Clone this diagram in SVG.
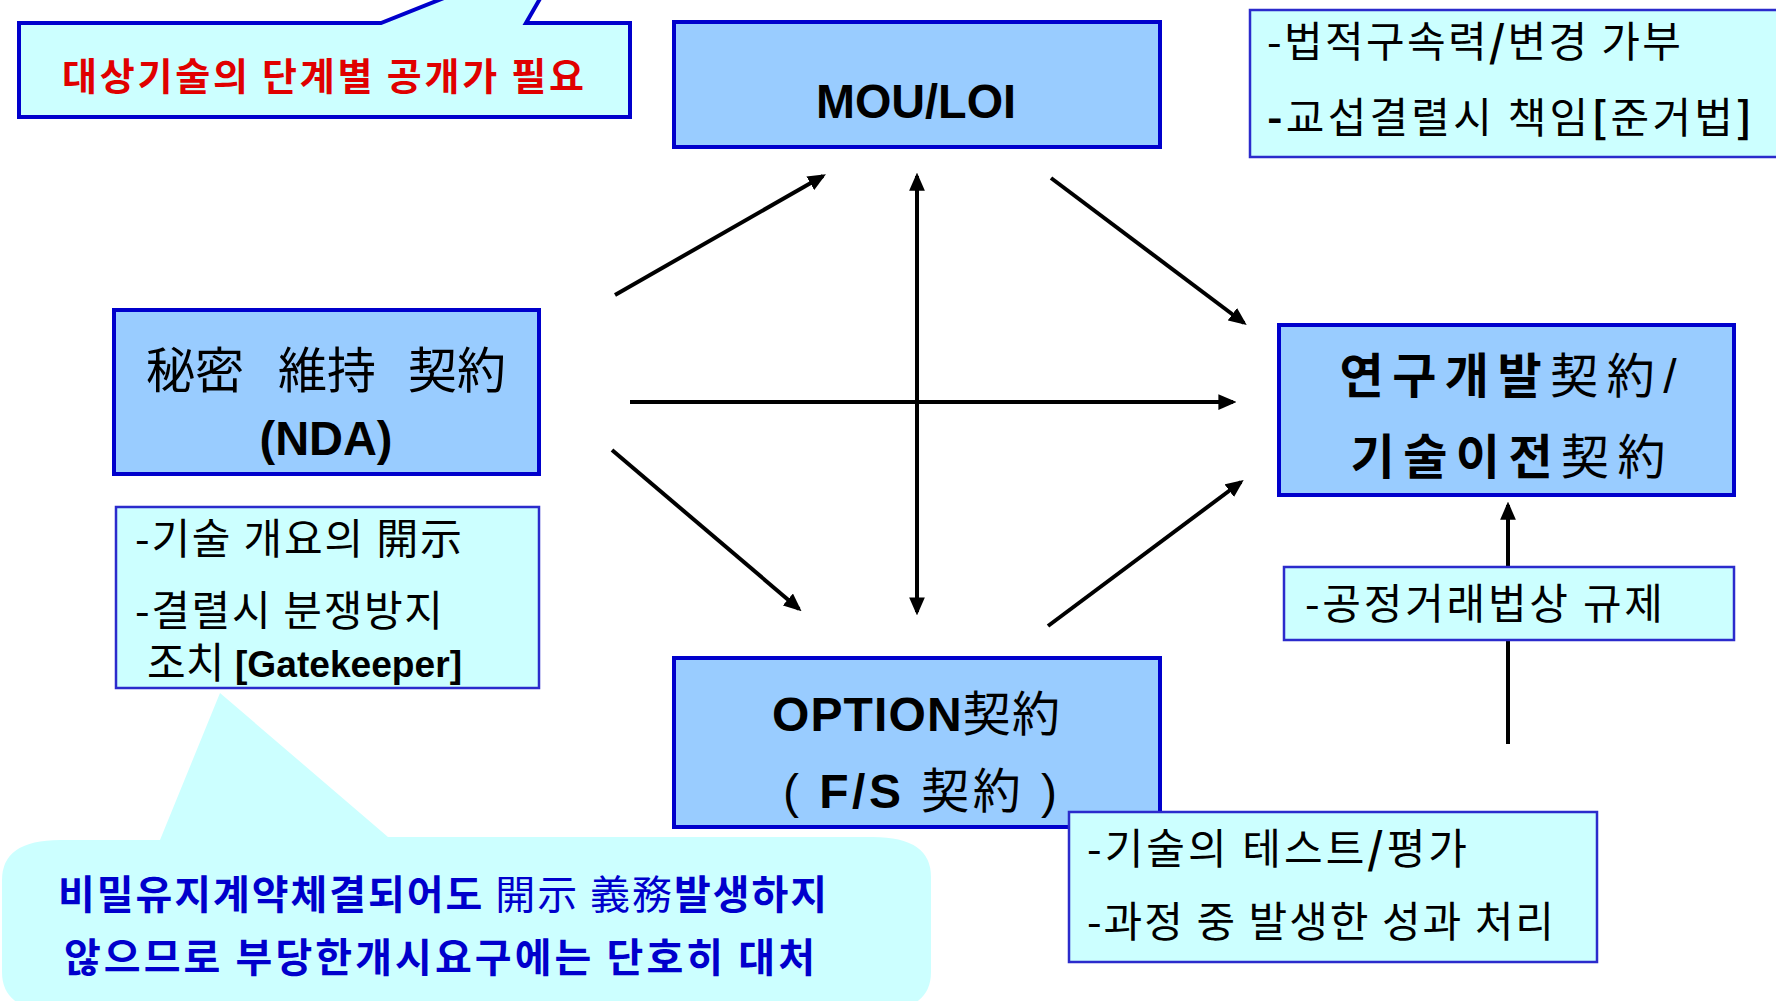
<svg xmlns="http://www.w3.org/2000/svg" width="1776" height="1001" viewBox="0 0 1776 1001">
<defs>
<marker id="ah" markerUnits="userSpaceOnUse" markerWidth="18" markerHeight="16" refX="13" refY="7" orient="auto-start-reverse" viewBox="0 0 16 14">
<path d="M0,0 L16,7 L0,14 z" fill="#000"/>
</marker>
<style>
.main{fill:#99CCFF;stroke:#0000CC;stroke-width:4}
.sub{fill:#CCFFFF;stroke:#2B2BCC;stroke-width:2.5}
.call{fill:#CCFFFF;stroke:#0000CC;stroke-width:4}
.bub{fill:#CCFFFF;stroke:none}
.ko{font-family:"Noto Sans CJK KR","Liberation Sans",sans-serif;font-size:42px;fill:#000}
.big{font-family:"Liberation Sans","Noto Sans CJK KR",sans-serif;font-size:48px;fill:#000}
.b{font-weight:bold}
.n{font-weight:normal}
.arr{stroke:#000;stroke-width:4;fill:none;marker-end:url(#ah)}
</style>
</defs>
<rect width="1776" height="1001" fill="#fff"/>

<g id="callout-top">
<path class="call" d="M19,23 L381,23 L464,-10 L545,-10 L526,23 L630,23 L630,117 L19,117 Z"/>
<text x="323" y="90" text-anchor="middle" font-family="Noto Sans CJK KR, sans-serif" font-size="38" font-weight="bold" fill="#E00000" textLength="522">대상기술의 단계별 공개가 필요</text>
</g>

<g id="connectors">
<line class="arr" x1="615" y1="295" x2="823" y2="176"/>
<line class="arr" x1="917" y1="612" x2="917" y2="176" style="marker-start:url(#ah)"/>
<line class="arr" x1="1051" y1="178" x2="1244" y2="323"/>
<line class="arr" x1="630" y1="402" x2="1233" y2="402"/>
<line class="arr" x1="612" y1="450" x2="799" y2="609"/>
<line class="arr" x1="1048" y1="626" x2="1241" y2="482"/>
<line class="arr" x1="1508" y1="744" x2="1508" y2="505"/>
</g>

<g id="mou">
<rect class="main" x="674" y="22" width="486" height="125"/>
<text class="big b" x="916" y="118" text-anchor="middle" font-size="52" textLength="200" lengthAdjust="spacingAndGlyphs">MOU/LOI</text>
</g>

<g id="mou-notes">
<rect class="sub" x="1250" y="10" width="540" height="147"/>
<text class="ko" x="1267" y="57" textLength="414">-법적구속력<tspan class="b">/</tspan>변경 가부</text>
<text class="ko" x="1267" y="133" textLength="485"><tspan class="b">-</tspan>교섭결렬시 책임<tspan class="b">[</tspan>준거법<tspan class="b">]</tspan></text>
</g>

<g id="nda">
<rect class="main" x="114" y="310" width="425" height="164"/>
<g font-family="Noto Sans CJK KR, sans-serif" font-size="49" fill="#000" text-anchor="middle">
<text x="195" y="388">秘密</text>
<text x="327" y="388">維持</text>
<text x="457" y="388">契約</text>
</g>
<text class="big b" x="326" y="455" text-anchor="middle" font-size="44" textLength="133" lengthAdjust="spacingAndGlyphs">(NDA)</text>
</g>

<g id="nda-notes">
<rect class="sub" x="116" y="507" width="423" height="181"/>
<text class="ko" x="135" y="554" font-size="40" textLength="327">-기술 개요의 開示</text>
<text class="ko" x="135" y="626" font-size="38" textLength="308">-결렬시 분쟁방지</text>
<text class="ko" x="147" y="678" font-size="38">조치</text>
<text x="235" y="677" font-family="Liberation Sans, sans-serif" font-size="37" font-weight="bold" fill="#000" textLength="227" lengthAdjust="spacingAndGlyphs">[Gatekeeper]</text>
</g>

<g id="option">
<rect class="main" x="674" y="658" width="486" height="169"/>
<text class="big" x="916" y="731" text-anchor="middle" textLength="288"><tspan class="b">OPTION</tspan>契約</text>
<text class="big" x="920" y="808" text-anchor="middle" textLength="274">( <tspan class="b">F/S</tspan> 契約 )</text>
</g>

<g id="option-notes">
<rect class="sub" x="1069" y="812" width="528" height="150"/>
<text class="ko" x="1087" y="864" textLength="380">-기술의 테스트<tspan class="b">/</tspan>평가</text>
<text class="ko" x="1087" y="937" textLength="467">-과정 중 발생한 성과 처리</text>
</g>

<g id="rnd">
<rect class="main" x="1279" y="325" width="455" height="170"/>
<text class="big" x="1508" y="393" text-anchor="middle" font-size="50" textLength="337"><tspan class="b">연구개발</tspan>契約/</text>
<text class="big" x="1508" y="474" text-anchor="middle" font-size="50" textLength="315"><tspan class="b">기술이전</tspan>契約</text>
</g>

<g id="rnd-notes">
<rect class="sub" x="1284" y="567" width="450" height="73"/>
<text class="ko" x="1305" y="619" textLength="358">-공정거래법상 규제</text>
</g>

<g id="callout-bottom">
<path class="bub" d="M60,840 L160,840 L220,693 L388,837 L873,837 Q931,837 931,877 L931,972 Q931,1012 873,1012 L60,1012 Q2,1012 2,972 L2,880 Q2,840 60,840 Z"/>
<text x="58" y="909" font-family="Noto Sans CJK KR, sans-serif" font-size="40" font-weight="bold" fill="#0000CC" textLength="769">비밀유지계약체결되어도 <tspan font-weight="normal">開示 義務</tspan>발생하지</text>
<text x="64" y="972" font-family="Noto Sans CJK KR, sans-serif" font-size="40" font-weight="bold" fill="#0000CC" textLength="751">않으므로 부당한개시요구에는 단호히 대처</text>
</g>
</svg>
